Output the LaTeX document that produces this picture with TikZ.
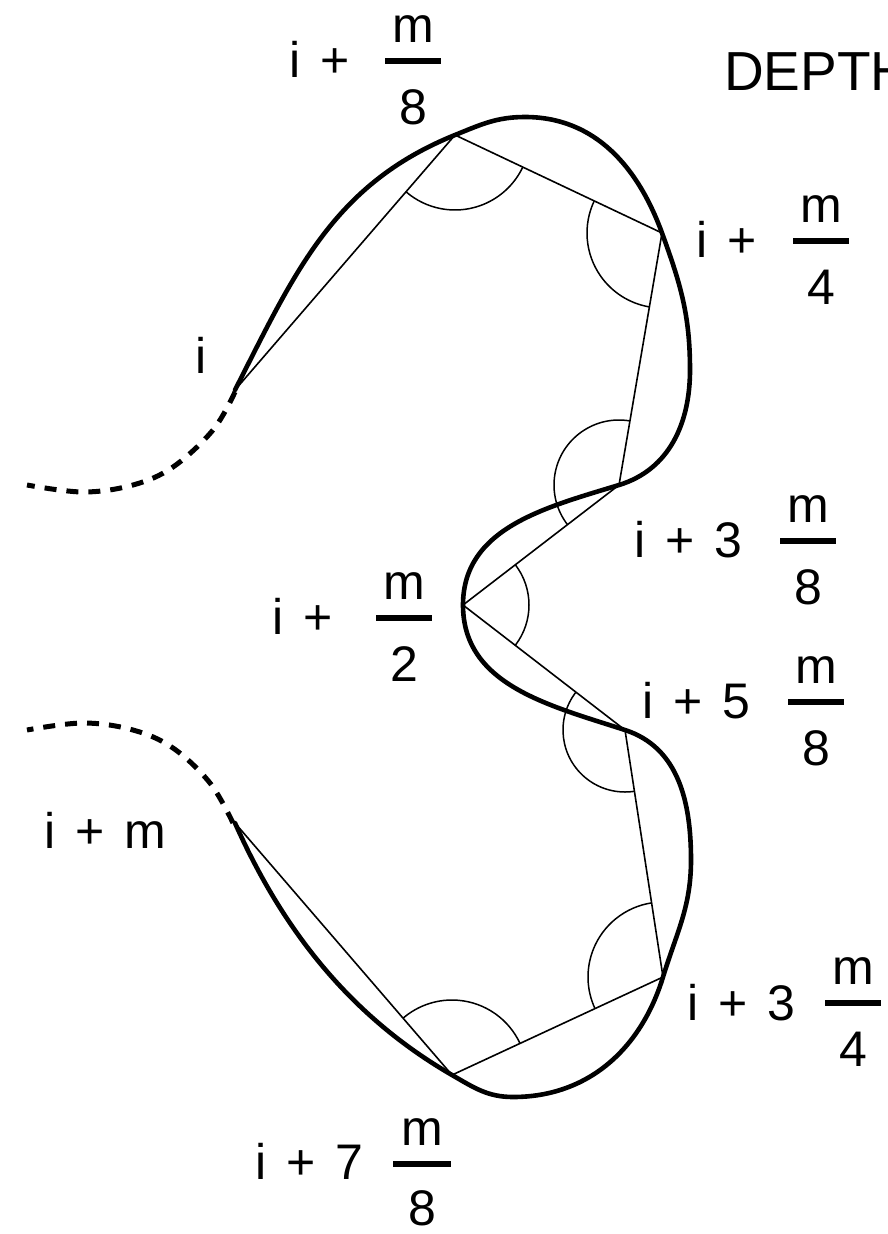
\documentclass[tikz,border=0pt]{standalone}
\usepackage{fontspec}
\setmainfont{Liberation Sans}
\usetikzlibrary{angles}
\newcommand\gapp{\hspace{20pt}}
\tikzset{
  curve/.style={line width=4.6pt, line cap=round, line join=round},
  chord/.style={line width=1.6pt, line join=miter},
  dashcurve/.style={line width=5pt, dash pattern=on 12pt off 10pt},
  lbl/.style={font=\fontsize{50}{60}\selectfont, inner sep=0pt, anchor=base west},
  num/.style={font=\fontsize{50}{60}\selectfont, inner sep=0pt, anchor=base},
  fbar/.style={line width=6pt},
  ang/.style={draw, line width=1.5pt, angle radius=75pt}
}
\begin{document}
\begin{tikzpicture}[x=1pt,y=-1pt]
\useasboundingbox (0,0) rectangle (888,1234);
\clip (0,0) rectangle (888,1234);
\fill[white] (0,0) rectangle (888,1234);

% vertices
\coordinate (P0) at (235,390);
\coordinate (P1) at (455,135);
\coordinate (P2) at (662,233);
\coordinate (P3) at (619,485);
\coordinate (P4) at (463,605);
\coordinate (P5) at (625,730);
\coordinate (P6) at (663,977);
\coordinate (P7) at (452,1075);
\coordinate (P8) at (235,823);
\coordinate (T1) at (525,117);
\coordinate (R1) at (690,370);
\coordinate (R2) at (691,860);
\coordinate (B1) at (513,1097);

% thick curve
\draw[curve] (P0) to[out=63,in=202] (P1) to[out=22,in=180] (T1)
  to[out=0,in=110] (P2) to[out=-70,in=90] (R1) to[out=-90,in=17] (P3)
  to[out=197,in=90] (P4) to[out=-90,in=162] (P5) to[out=-18,in=90] (R2)
  to[out=-90,in=73] (P6) to[out=253,in=0] (B1) to[out=180,in=-30] (P7)
  to[out=150,in=-66, looseness=0.9] (P8);

% dashed ends
\draw[dashcurve] plot[smooth, tension=0.6] coordinates {
 (235,392) (213,430) (173,467) (133,485) (83,492) (27,485)};
\draw[dashcurve] plot[smooth, tension=0.6] coordinates {
 (233,823) (210,783) (173,748) (133,730) (83,723) (27,730)};

% chords
\draw[chord] (P0) -- (P1) -- (P2) -- (P3) -- (P4) -- (P5) -- (P6) -- (P7) -- (P8);

% angle marks
\pic[ang] {angle = P0--P1--P2};
\pic[ang] {angle = P1--P2--P3};
\pic[ang, angle radius=65pt] {angle = P2--P3--P4};
\pic[ang, angle radius=66pt] {angle = P5--P4--P3};
\pic[ang, angle radius=62pt] {angle = P4--P5--P6};
\pic[ang] {angle = P5--P6--P7};
\pic[ang] {angle = P6--P7--P8};

% labels
\node[lbl] (Li) at (195,373) {i};
\node[lbl] (Lm) at (44,848) {i\gapp+\gapp m};
\node[lbl, font=\fontsize{55}{66}\selectfont] (Ldepth) at (724,90) {DEPTH};

% i + m/8
\node[lbl] (A1) at (289,77) {i\gapp+};
\draw[fbar] (385,61) -- (441,61);
\node[num] (A1n) at (413,42) {m};
\node[num] (A1d) at (413,124) {8};

% i + m/4
\node[lbl] (A2) at (696,257) {i\gapp+};
\draw[fbar] (793,241) -- (849,241);
\node[num] (A2n) at (821,222) {m};
\node[num] (A2d) at (821,304) {4};

% i + 3 m/8
\node[lbl] (A3) at (634,557) {i\gapp+\gapp3};
\draw[fbar] (780,541) -- (836,541);
\node[num] (A3n) at (808,522) {m};
\node[num] (A3d) at (808,604) {8};

% i + m/2
\node[lbl] (A4) at (272,634) {i\gapp+};
\draw[fbar] (376,618) -- (432,618);
\node[num] (A4n) at (404,599) {m};
\node[num] (A4d) at (404,681) {2};

% i + 5 m/8
\node[lbl] (A5) at (642,718) {i\gapp+\gapp5};
\draw[fbar] (788,702) -- (844,702);
\node[num] (A5n) at (816,683) {m};
\node[num] (A5d) at (816,765) {8};

% i + 3 m/4
\node[lbl] (A6) at (687,1020) {i\gapp+\gapp3};
\draw[fbar] (825,1003) -- (881,1003);
\node[num] (A6n) at (853,984) {m};
\node[num] (A6d) at (853,1066) {4};

% i + 7 m/8
\node[lbl] (A7) at (255,1179) {i\gapp+\gapp7};
\draw[fbar] (393,1164) -- (451,1164);
\node[num] (A7n) at (422,1145) {m};
\node[num] (A7d) at (422,1225) {8};
\end{tikzpicture}
\end{document}
